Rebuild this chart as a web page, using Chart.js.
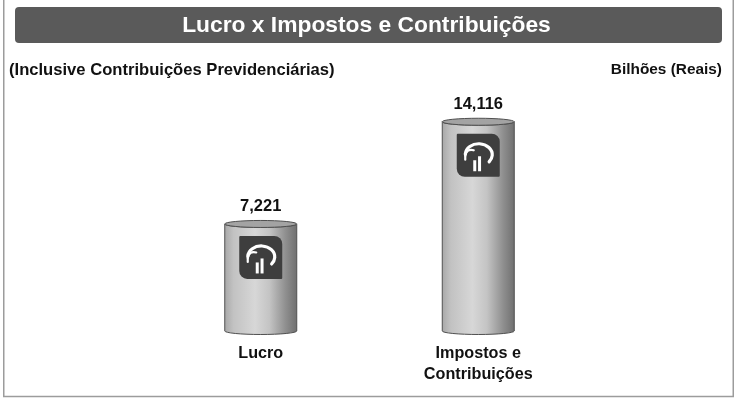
<!DOCTYPE html>
<html>
<head>
<meta charset="utf-8">
<script src="https://cdn.jsdelivr.net/npm/chart.js@4/dist/chart.umd.min.js"></script>
<style>
html,body{margin:0;padding:0;background:#fff;}
canvas{display:block;}
</style>
</head>
<body>
<canvas id="c" width="736" height="400"></canvas>
<script>
const titleText = "Lucro x Impostos e Contribuições";
const subtitleLeft = "(Inclusive Contribuições Previdenciárias)";
const subtitleRight = "Bilhões (Reais)";
const categories = [["Lucro"], ["Impostos e", "Contribuições"]];
const values = [7221, 14116];
const valueLabels = ["7,221", "14,116"];

const FONT = '"Liberation Sans", Arial, Helvetica, sans-serif';

const decorPlugin = {
  id: 'decor',
  beforeDraw(chart) {
    const ctx = chart.ctx;
    ctx.save();
    ctx.fillStyle = '#ffffff';
    ctx.fillRect(0, 0, chart.width, chart.height);
    // frame
    ctx.strokeStyle = '#9c9c9c';
    ctx.lineWidth = 1.5;
    ctx.strokeRect(3.75, -2, 729.5, 398.5);
    // title bar
    ctx.fillStyle = '#5a5a5a';
    ctx.beginPath();
    ctx.roundRect(15, 7, 707, 36, 4);
    ctx.fill();
    ctx.fillStyle = '#ffffff';
    ctx.font = 'bold 22.8px ' + FONT;
    ctx.textAlign = 'center';
    ctx.textBaseline = 'middle';
    ctx.fillText(titleText, 366.5, 26);
    // subtitles
    ctx.fillStyle = '#111111';
    ctx.font = 'bold 16.6px ' + FONT;
    ctx.textAlign = 'left';
    ctx.fillText(subtitleLeft, 9, 70);
    ctx.font = 'bold 15.4px ' + FONT;
    ctx.textAlign = 'right';
    ctx.fillText(subtitleRight, 722, 70);
    ctx.restore();
  },
  afterDatasetsDraw(chart) {
    const ctx = chart.ctx;
    const meta = chart.getDatasetMeta(0);
    meta.data.forEach((bar, i) => {
      const x = bar.x, yTop = bar.y, yBase = bar.base, w = bar.width;
      const rx = w / 2, ry = 3.5;
      ctx.save();
      // body
      const g = ctx.createLinearGradient(x - rx, 0, x + rx, 0);
      g.addColorStop(0, '#a8a8a8');
      g.addColorStop(0.12, '#c2c2c2');
      g.addColorStop(0.42, '#d7d7d7');
      g.addColorStop(0.62, '#c4c4c4');
      g.addColorStop(0.85, '#8e8e8e');
      g.addColorStop(1, '#707070');
      ctx.beginPath();
      ctx.moveTo(x - rx, yTop);
      ctx.lineTo(x - rx, yBase);
      ctx.ellipse(x, yBase, rx, ry, 0, Math.PI, 0, true);
      ctx.lineTo(x + rx, yTop);
      ctx.ellipse(x, yTop, rx, ry, 0, 0, Math.PI, false);
      ctx.closePath();
      ctx.fillStyle = g;
      ctx.fill();
      ctx.strokeStyle = '#505050';
      ctx.lineWidth = 1;
      ctx.stroke();
      // top ellipse
      ctx.beginPath();
      ctx.ellipse(x, yTop, rx, ry, 0, 0, Math.PI * 2);
      ctx.fillStyle = '#a3a3a3';
      ctx.fill();
      ctx.strokeStyle = '#505050';
      ctx.stroke();
      // logo box
      const bx = x - rx + 14.5, by = yTop + 12;
      const s = 43;
      ctx.beginPath();
      ctx.roundRect(bx, by, s, s, [1, 8, 1, 8]);
      ctx.fillStyle = '#3e3e3e';
      ctx.fill();
      // logo symbol
      ctx.strokeStyle = '#ffffff';
      ctx.fillStyle = '#ffffff';
      ctx.lineCap = 'round';
      ctx.lineWidth = 3.2;
      ctx.beginPath();
      ctx.ellipse(bx + 22, by + 21, 13.5, 11, 0, Math.PI * 1.02, Math.PI * 2.22, false);
      ctx.stroke();
      ctx.lineWidth = 2.2;
      ctx.beginPath();
      ctx.moveTo(bx + 8.5, by + 22);
      ctx.quadraticCurveTo(bx + 10, by + 14.5, bx + 17, by + 16.5);
      ctx.stroke();
      ctx.beginPath();
      ctx.moveTo(bx + 8.5, by + 22);
      ctx.lineTo(bx + 8.5, by + 26);
      ctx.stroke();
      ctx.fillRect(bx + 16.5, by + 26.5, 3, 11);
      ctx.fillRect(bx + 21.3, by + 22.5, 3, 15);
      // value label
      ctx.fillStyle = '#111111';
      ctx.font = 'bold 16.5px ' + FONT;
      ctx.textAlign = 'center';
      ctx.textBaseline = 'alphabetic';
      ctx.fillText(valueLabels[i], x, yTop - 13);
      // category label
      ctx.font = 'bold 16.2px ' + FONT;
      ctx.textBaseline = 'middle';
      categories[i].forEach((line, j) => {
        ctx.fillText(line, x, 354 + j * 21);
      });
      ctx.restore();
    });
  }
};

new Chart(document.getElementById('c'), {
  type: 'bar',
  data: {
    labels: categories,
    datasets: [{
      data: values,
      backgroundColor: 'rgba(0,0,0,0)',
      borderWidth: 0,
      barThickness: 72
    }]
  },
  options: {
    responsive: false,
    animation: false,
    layout: { padding: { left: 152, right: 149, top: 79, bottom: 69 } },
    scales: {
      x: { display: false, offset: true },
      y: { display: false, min: 0, max: 17000 }
    },
    plugins: {
      legend: { display: false },
      tooltip: { enabled: false },
      title: { display: false }
    }
  },
  plugins: [decorPlugin]
});
</script>
</body>
</html>
